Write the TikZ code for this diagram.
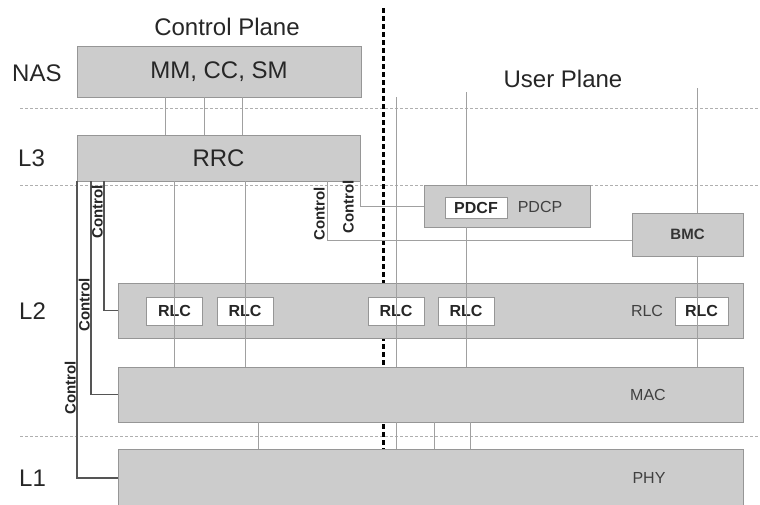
\documentclass[tikz,border=0pt]{standalone}
\usepackage{fontspec}
\setmainfont{Liberation Sans}
\usepackage{tikz}
\usetikzlibrary{calc}
\definecolor{layerfill}{RGB}{204,204,204}
\definecolor{layerdraw}{RGB}{150,150,150}
\definecolor{linkgray}{RGB}{160,160,160}
\definecolor{ctrlgray}{RGB}{85,85,85}
\definecolor{sepgray}{RGB}{175,175,175}
\tikzset{
  layer/.style={
    rectangle, draw=layerdraw, fill=layerfill, line width=0.8pt,
    inner sep=0pt, outer sep=0pt, text=black!80,
    font=\fontsize{16}{18}\selectfont
  },
  subbox/.style={
    rectangle, draw=layerdraw, fill=white, line width=0.8pt,
    inner sep=0pt, outer sep=0pt, minimum width=56, minimum height=28,
    text=black!85, font=\fontsize{16}{18}\selectfont\bfseries
  },
  title/.style={inner sep=0pt, text=black!85, font=\fontsize{24}{27}\selectfont},
  small/.style={inner sep=0pt, text=black!75, font=\fontsize{16}{18}\selectfont},
  ctrllabel/.style={
    rotate=90, anchor=south, inner sep=1pt,
    text=black!85, font=\fontsize{15}{17}\selectfont\bfseries
  },
  separator/.style={draw=sepgray, line width=0.8pt, dash pattern=on 3pt off 2pt},
  divider/.style={draw=black, line width=3pt, dash pattern=on 5pt off 3pt},
  link/.style={draw=linkgray, line width=0.8pt},
  ctrl/.style={draw=ctrlgray, line width=1.4pt},
}

\begin{document}
\begin{tikzpicture}[x=1pt, y=-1pt]
  \useasboundingbox (0,0) rectangle (760,504);
  \clip (0,0) rectangle (760,504);

  \draw[separator] (20,108) -- (760,108);
  \draw[separator] (20,185) -- (760,185);
  \draw[separator] (20,436) -- (760,436);
  \draw[divider] (383,8) -- (383,480);

  \node[title] (cptitle) at (227,27) {Control Plane};
  \node[title] (uptitle) at (563,79) {User Plane};
  \node[title, anchor=west] (naslbl) at (12,73)  {NAS};
  \node[title, anchor=west] (l3lbl)  at (18,158) {L3};
  \node[title, anchor=west] (l2lbl)  at (19,311) {L2};
  \node[title, anchor=west] (l1lbl)  at (19,478) {L1};

  \node[layer, minimum width=284, minimum height=51, title] (nas) at (219,71.5) {MM, CC, SM};
  \node[layer, minimum width=283, minimum height=46, title] (rrc) at (218.5,158) {RRC};
  \node[layer, minimum width=166, minimum height=42] (pdcp) at (507,206) {};
  \node[subbox, minimum width=62, minimum height=21] (pdcf) at (476,207.5) {PDCF};
  \node[small] (pdcptxt) at (540,207) {PDCP};
  \node[layer, minimum width=111, minimum height=43, font=\fontsize{15}{17}\selectfont\bfseries] (bmc) at (687.5,234.5) {BMC};
  \node[layer, minimum width=625, minimum height=55] (l2) at (430.5,310.5) {};
  \node[layer, minimum width=625, minimum height=55] (mac) at (430.5,394.5) {};
  \node[layer, minimum width=625, minimum height=58] (phy) at (430.5,478) {};

  \node[subbox] (rlcA) at (174.5,311) {RLC};
  \node[subbox] (rlcB) at (245,311) {RLC};
  \node[subbox] (rlcC) at (396,311) {RLC};
  \node[subbox] (rlcD) at (466,311) {RLC};
  \node[subbox, minimum width=53] (rlcE) at (701.5,311) {RLC};
  \node[small] (rlctxt) at (647,311) {RLC};
  \node[small] (mactxt) at (648,394.5) {MAC};
  \node[small] (phytxt) at (649,478) {PHY};

  \coordinate (upA) at (396,97);
  \coordinate (upB) at (466,92);
  \coordinate (upC) at (697,88);
  \coordinate (ctlbend) at (327,240);

  \foreach \x in {165,204,242}
    \draw[link] (\x,0 |- nas.south) -- (\x,0 |- rrc.north);
  \foreach \r in {rlcA,rlcB}
    \draw[link] (\r |- rrc.south) -- (\r |- mac.north);
  \draw[link] (upA) -- (upA |- mac.north);
  \draw[link] (upB) -- (upB |- pdcp.north);
  \draw[link] (upB |- pdcp.south) -- (upB |- mac.north);
  \draw[link] (upC) -- (upC |- bmc.north);
  \draw[link] (upC |- bmc.south) -- (upC |- mac.north);
  \foreach \x in {258,396,434,470}
    \draw[link] (\x,0 |- mac.south) -- (\x,0 |- phy.north);

  \draw[ctrl] (77,0 |- rrc.south) -- (77,0 |- phy.west) -- (phy.west);
  \draw[ctrl] (91,0 |- rrc.south) -- (91,0 |- mac.west) -- (mac.west);
  \draw[ctrl] (104,0 |- rrc.south) -- (104,0 |- l2.west) -- (l2.west);
  \draw[link] (ctlbend |- rrc.south) -- (ctlbend) -- (ctlbend -| bmc.west);
  \draw[link] (rrc.south east) -- (rrc.south east |- pdcp.west) -- (pdcp.west);

  \node[ctrllabel] (ctlA) at (77,388)  {Control};
  \node[ctrllabel] (ctlB) at (91,305)  {Control};
  \node[ctrllabel] (ctlC) at (104,212) {Control};
  \node[ctrllabel] (ctlD) at (326,214) {Control};
  \node[ctrllabel] (ctlE) at (355,207) {Control};
\end{tikzpicture}
\end{document}
